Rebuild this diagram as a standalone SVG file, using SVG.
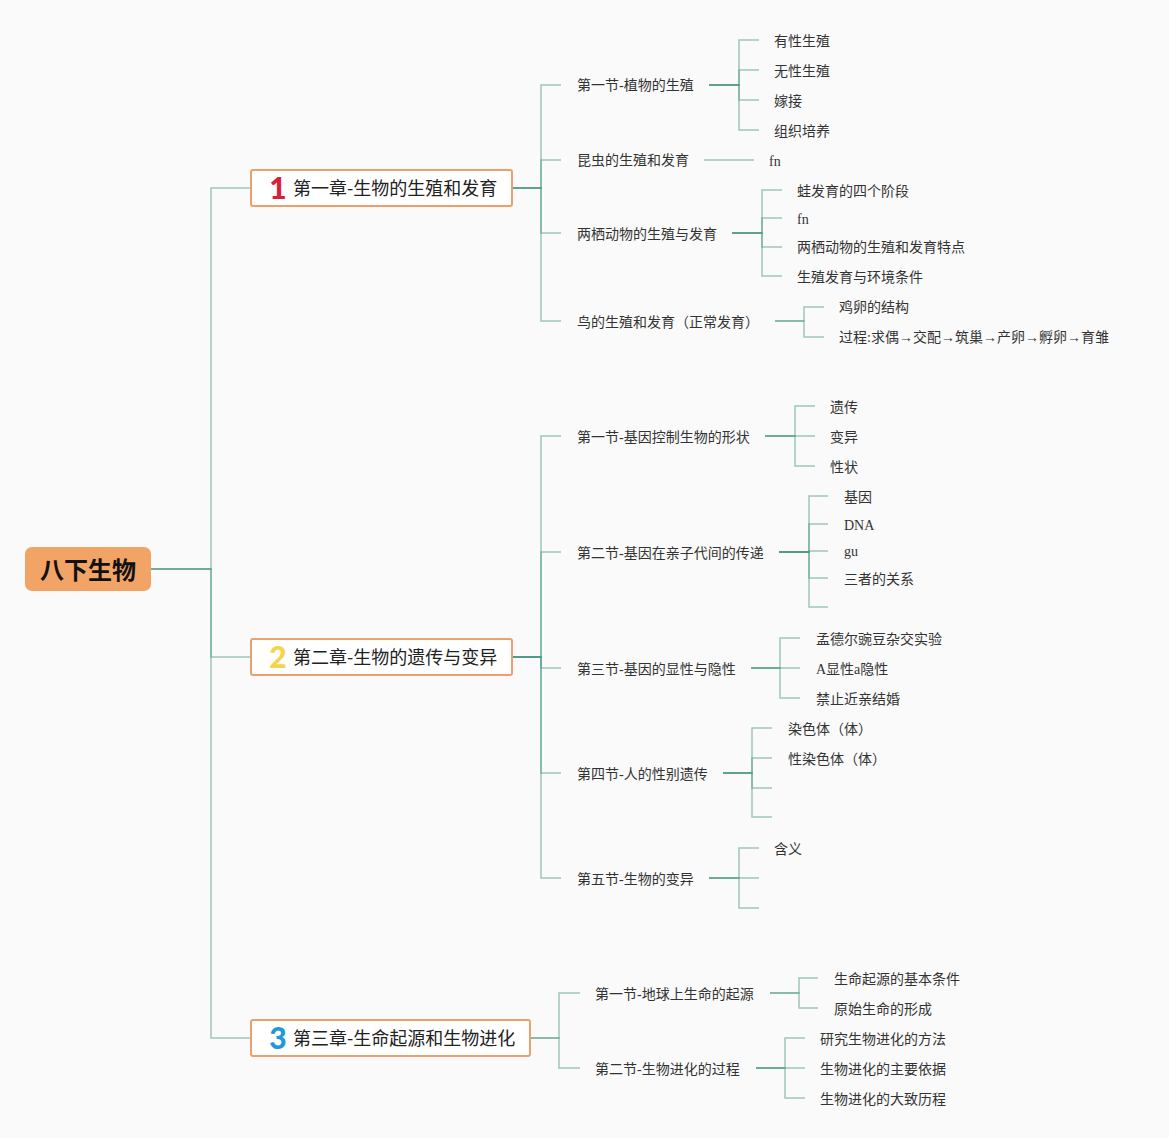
<svg xmlns="http://www.w3.org/2000/svg" width="1169" height="1138" viewBox="0 0 1169 1138">
<style>
.bg{fill:#fafafa}
.ln{fill:none;stroke:#43937e;stroke-opacity:0.5;stroke-width:1.5}
.t{font-family:"Liberation Serif","Noto Sans CJK SC",serif;font-size:14px;fill:#333}
.ch{fill:#fff;stroke:#eea06c;stroke-width:2}
.cht{font-family:"Noto Sans CJK SC",sans-serif;font-size:18px;fill:#222}
.num{font-family:"Lato","Open Sans",sans-serif;font-size:30px;font-weight:900;text-anchor:middle}
.root{fill:#f2a366}
.roott{font-family:"Noto Sans CJK SC",sans-serif;font-size:24px;font-weight:bold;fill:#111;text-anchor:middle}
</style>
<rect class="bg" x="0" y="0" width="1169" height="1138"/>
<g id="connectors">
<path class="ln" d="M151,569H211V188H250"/>
<path class="ln" d="M151,569H211V657H250"/>
<path class="ln" d="M151,569H211V1038H250"/>
<path class="ln" d="M512,188H541V85H561"/>
<path class="ln" d="M512,188H541V160H561"/>
<path class="ln" d="M512,188H541V233H561"/>
<path class="ln" d="M512,188H541V321H561"/>
<path class="ln" d="M512,657H541V436H561"/>
<path class="ln" d="M512,657H541V552H561"/>
<path class="ln" d="M512,657H541V668H561"/>
<path class="ln" d="M512,657H541V773H561"/>
<path class="ln" d="M512,657H541V878H561"/>
<path class="ln" d="M530,1038H559V993H580"/>
<path class="ln" d="M530,1038H559V1068H580"/>
<path class="ln" d="M709,85H739V40H759"/>
<path class="ln" d="M709,85H739V70H759"/>
<path class="ln" d="M709,85H739V100H759"/>
<path class="ln" d="M709,85H739V130H759"/>
<path class="ln" d="M704,160H754"/>
<path class="ln" d="M732,233H762V190H782"/>
<path class="ln" d="M732,233H762V218H782"/>
<path class="ln" d="M732,233H762V247H782"/>
<path class="ln" d="M732,233H762V276H782"/>
<path class="ln" d="M775,321H804V307H824"/>
<path class="ln" d="M775,321H804V337H824"/>
<path class="ln" d="M765,436H795V406H815"/>
<path class="ln" d="M765,436H815"/>
<path class="ln" d="M765,436H795V466H815"/>
<path class="ln" d="M779,552H809V496H828"/>
<path class="ln" d="M779,552H809V524H828"/>
<path class="ln" d="M779,552H809V551H828"/>
<path class="ln" d="M779,552H809V578H828"/>
<path class="ln" d="M779,552H809V607H828"/>
<path class="ln" d="M751,668H780V638H800"/>
<path class="ln" d="M751,668H800"/>
<path class="ln" d="M751,668H780V698H800"/>
<path class="ln" d="M723,773H752V728H772"/>
<path class="ln" d="M723,773H752V758H772"/>
<path class="ln" d="M723,773H752V788H772"/>
<path class="ln" d="M723,773H752V817H772"/>
<path class="ln" d="M709,878H739V848H759"/>
<path class="ln" d="M709,878H759"/>
<path class="ln" d="M709,878H739V908H759"/>
<path class="ln" d="M770,993H799V978H818"/>
<path class="ln" d="M770,993H799V1008H818"/>
<path class="ln" d="M756,1068H785V1038H805"/>
<path class="ln" d="M756,1068H805"/>
<path class="ln" d="M756,1068H785V1098H805"/>
</g>
<g id="root"><rect class="root" x="25" y="547" width="126" height="44" rx="7"/><text class="roott" x="88" y="579">八下生物</text></g>
<g id="ch1"><rect class="ch" x="251" y="170" width="261" height="36" rx="2"/><text class="num" x="278" y="199" fill="#d81e3a">1</text><text class="cht" x="293" y="195">第一章-生物的生殖和发育</text></g>
<g id="ch2"><rect class="ch" x="251" y="639" width="261" height="36" rx="2"/><text class="num" x="278" y="668" fill="#f4d54a">2</text><text class="cht" x="293" y="664">第二章-生物的遗传与变异</text></g>
<g id="ch3"><rect class="ch" x="251" y="1020" width="279" height="36" rx="2"/><text class="num" x="278" y="1049" fill="#1f97db">3</text><text class="cht" x="293" y="1045">第三章-生命起源和生物进化</text></g>
<g id="s11"><text class="t" x="577" y="90">第一节-植物的生殖</text></g>
<g id="n111"><text class="t" x="774" y="46">有性生殖</text></g>
<g id="n112"><text class="t" x="774" y="76">无性生殖</text></g>
<g id="n113"><text class="t" x="774" y="106">嫁接</text></g>
<g id="n114"><text class="t" x="774" y="136">组织培养</text></g>
<g id="s12"><text class="t" x="577" y="165">昆虫的生殖和发育</text></g>
<g id="n121"><text class="t" x="769" y="166">fn</text></g>
<g id="s13"><text class="t" x="577" y="239">两栖动物的生殖与发育</text></g>
<g id="n131"><text class="t" x="797" y="196">蛙发育的四个阶段</text></g>
<g id="n132"><text class="t" x="797" y="224">fn</text></g>
<g id="n133"><text class="t" x="797" y="252">两栖动物的生殖和发育特点</text></g>
<g id="n134"><text class="t" x="797" y="282">生殖发育与环境条件</text></g>
<g id="s14"><text class="t" x="577" y="327">鸟的生殖和发育（正常发育）</text></g>
<g id="n141"><text class="t" x="839" y="312">鸡卵的结构</text></g>
<g id="n142"><text class="t" x="839" y="342">过程:求偶→交配→筑巢→产卵→孵卵→育雏</text></g>
<g id="s21"><text class="t" x="577" y="442">第一节-基因控制生物的形状</text></g>
<g id="n211"><text class="t" x="830" y="412">遗传</text></g>
<g id="n212"><text class="t" x="830" y="442">变异</text></g>
<g id="n213"><text class="t" x="830" y="472">性状</text></g>
<g id="s22"><text class="t" x="577" y="558">第二节-基因在亲子代间的传递</text></g>
<g id="n221"><text class="t" x="844" y="502">基因</text></g>
<g id="n222"><text class="t" x="844" y="530">DNA</text></g>
<g id="n223"><text class="t" x="844" y="556">gu</text></g>
<g id="n224"><text class="t" x="844" y="584">三者的关系</text></g>
<g id="s23"><text class="t" x="577" y="674">第三节-基因的显性与隐性</text></g>
<g id="n231"><text class="t" x="816" y="644">孟德尔豌豆杂交实验</text></g>
<g id="n232"><text class="t" x="816" y="674">A显性a隐性</text></g>
<g id="n233"><text class="t" x="816" y="704">禁止近亲结婚</text></g>
<g id="s24"><text class="t" x="577" y="779">第四节-人的性别遗传</text></g>
<g id="n241"><text class="t" x="788" y="734">染色体（体）</text></g>
<g id="n242"><text class="t" x="788" y="764">性染色体（体）</text></g>
<g id="s25"><text class="t" x="577" y="884">第五节-生物的变异</text></g>
<g id="n251"><text class="t" x="774" y="854">含义</text></g>
<g id="s31"><text class="t" x="595" y="999">第一节-地球上生命的起源</text></g>
<g id="n311"><text class="t" x="834" y="984">生命起源的基本条件</text></g>
<g id="n312"><text class="t" x="834" y="1014">原始生命的形成</text></g>
<g id="s32"><text class="t" x="595" y="1074">第二节-生物进化的过程</text></g>
<g id="n321"><text class="t" x="820" y="1044">研究生物进化的方法</text></g>
<g id="n322"><text class="t" x="820" y="1074">生物进化的主要依据</text></g>
<g id="n323"><text class="t" x="820" y="1104">生物进化的大致历程</text></g>
</svg>
